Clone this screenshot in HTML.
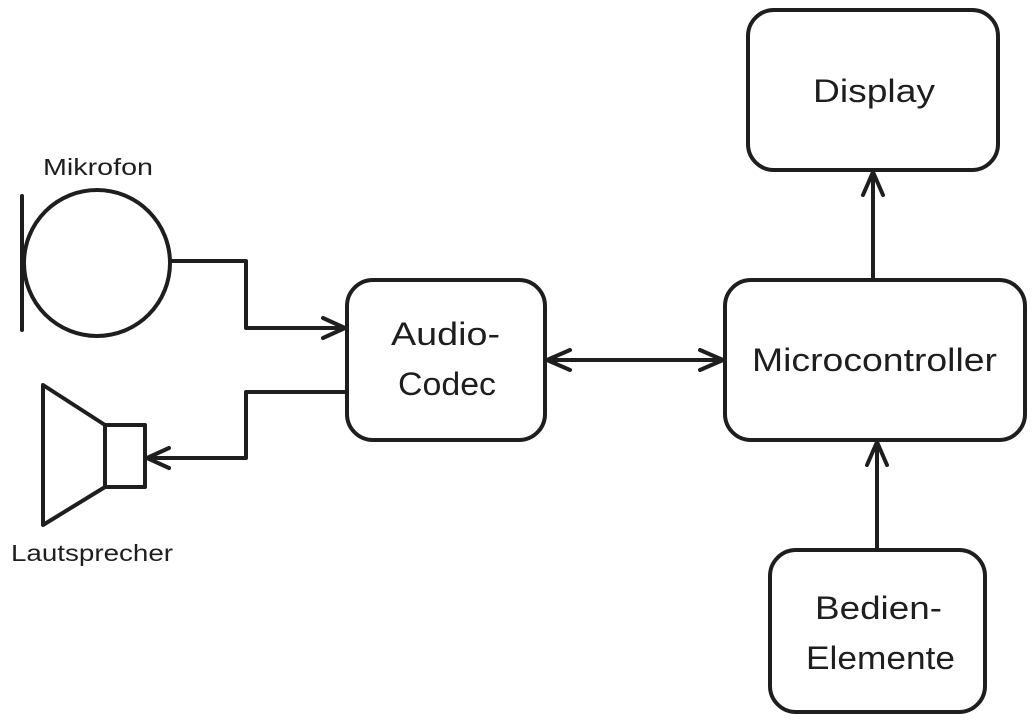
<!DOCTYPE html>
<html><head><style>
body{margin:0;background:#fff}
svg{display:block}
text{font-family:"Liberation Sans",sans-serif;fill:#1e1e1e}
</style></head><body>
<svg width="1033" height="722" viewBox="0 0 1033 722">
<g fill="none" stroke="#1e1e1e" stroke-width="4" stroke-linecap="round" stroke-linejoin="round">
<line x1="22" y1="196" x2="22" y2="330"/>
<circle cx="97" cy="263" r="73"/>
<polyline points="170,261 246,261 246,328 345,328"/>
<polyline points="323,318 345,328 323,338"/>
<polygon points="43,385 105,425 105,487 43,525"/>
<rect x="105" y="425" width="40" height="62"/>
<polyline points="347,392 246,392 246,458 147,458"/>
<polyline points="169,448 147,458 169,468"/>
<rect x="347" y="280" width="198" height="160" rx="26"/>
<line x1="547" y1="360" x2="723" y2="360"/>
<polyline points="570,350 547,360 570,370"/>
<polyline points="700,350 723,360 700,370"/>
<rect x="725" y="280" width="300" height="160" rx="26"/>
<rect x="748" y="10" width="250" height="160" rx="26"/>
<line x1="873" y1="278" x2="873" y2="172"/>
<polyline points="863,195 873,172 883,195"/>
<rect x="770" y="550" width="215" height="162" rx="26"/>
<line x1="877" y1="548" x2="877" y2="442"/>
<polyline points="867,465 877,442 887,465"/>
</g>
<g font-size="23">
<text x="43" y="175" textLength="110" lengthAdjust="spacingAndGlyphs">Mikrofon</text>
<text x="11" y="561" textLength="162" lengthAdjust="spacingAndGlyphs">Lautsprecher</text>
</g>
<g font-size="32">
<text x="391" y="345" textLength="109" lengthAdjust="spacingAndGlyphs">Audio-</text>
<text x="398" y="395" textLength="98" lengthAdjust="spacingAndGlyphs">Codec</text>
<text x="752" y="371" textLength="245" lengthAdjust="spacingAndGlyphs">Microcontroller</text>
<text x="813" y="102" textLength="122" lengthAdjust="spacingAndGlyphs">Display</text>
<text x="815" y="619" textLength="127" lengthAdjust="spacingAndGlyphs">Bedien-</text>
<text x="806" y="669" textLength="149" lengthAdjust="spacingAndGlyphs">Elemente</text>
</g>
</svg>
</body></html>
